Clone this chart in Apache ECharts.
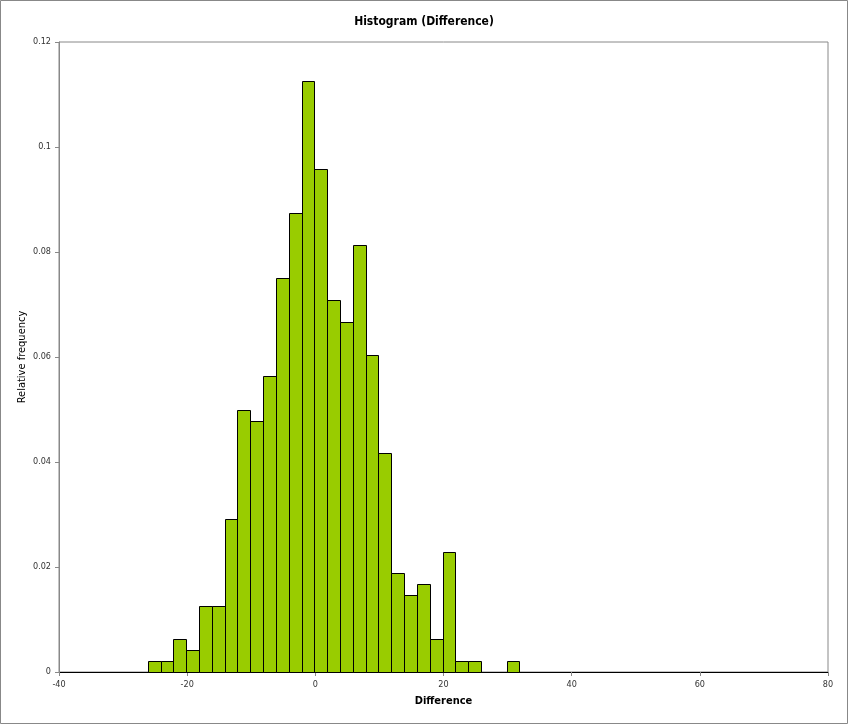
<!DOCTYPE html>
<html>
<head>
<meta charset="utf-8">
<script src="https://cdn.jsdelivr.net/npm/echarts@6/dist/echarts.min.js"></script>
<style>
html,body{margin:0;padding:0;background:#fff;}
#c{width:848px;height:724px;}
</style>
</head>
<body>
<div id="c"></div>
<script>
// Bin lower bounds (width 2)
var binStarts = [-26,-24,-22,-20,-18,-16,-14,-12,-10,-8,-6,-4,-2,0,2,4,6,8,10,12,14,16,18,20,22,24,26,28,30];
var binWidth = 2;
// Relative frequencies
var relFreq = [0.0021,0.0021,0.0063,0.0042,0.0125,0.0125,0.0292,0.05,0.0479,0.0563,0.075,0.0875,0.1125,0.0958,0.0708,0.0667,0.0813,0.0604,0.0417,0.0188,0.0146,0.0167,0.0063,0.0229,0.0021,0.0021,0,0,0.0021];
var xTicks = [-40,-20,0,20,40,60,80];
var yTicks = [0,0.02,0.04,0.06,0.08,0.1,0.12];

var FONT = '"Liberation Sans Narrow","DejaVu Sans Condensed","Liberation Sans",Arial,sans-serif';
var data = binStarts.map(function(s,i){ return [s, s+binWidth, relFreq[i]]; });

var chart = echarts.init(document.getElementById('c'), null, {renderer:'canvas'});
chart.setOption({
  backgroundColor:'#fff',
  animation:false,
  graphic:[{type:'rect',shape:{x:0.5,y:0.5,width:847,height:723},style:{fill:'none',stroke:'#888',lineWidth:1},silent:true}],
  title:{text:'Histogram (Difference)',left:'center',top:11,textStyle:{fontFamily:FONT,fontSize:12,fontWeight:'bold',color:'#000'}},
  grid:{left:59,top:42,width:769,height:630,show:true,borderColor:'#888',borderWidth:1,containLabel:false},
  xAxis:{type:'value',min:-40,max:80,interval:20,
    name:'Difference',nameLocation:'middle',nameGap:24,
    nameTextStyle:{fontFamily:FONT,fontSize:11,fontWeight:'bold',color:'#000'},
    axisLine:{show:true,onZero:false,lineStyle:{color:'#000',width:1}},
    axisTick:{show:true,length:4,lineStyle:{color:'#888'}},
    axisLabel:{fontFamily:FONT,fontSize:9,color:'#333',margin:8,formatter:function(v){return xTicks.indexOf(v)>=0?String(v):'';}},
    splitLine:{show:false}},
  yAxis:{type:'value',min:0,max:0.12,interval:0.02,
    name:'Relative frequency',nameLocation:'middle',nameGap:31,nameRotate:90,nameMoveOverlap:false,
    nameTextStyle:{fontFamily:FONT,fontSize:11,color:'#000'},
    axisLine:{show:true,onZero:false,lineStyle:{color:'#888',width:1}},
    axisTick:{show:true,length:4,lineStyle:{color:'#888'}},
    axisLabel:{fontFamily:FONT,fontSize:9,color:'#333',margin:8,
      formatter:function(v){ var r=Math.round(v*100)/100; return r===0?'0':String(r);}},
    splitLine:{show:false}},
  series:[{
    type:'custom',
    data:data,
    encode:{x:[0,1],y:2},
    renderItem:function(params, api){
      var p0 = api.coord([api.value(0), api.value(2)]);
      var p1 = api.coord([api.value(1), 0]);
      if (api.value(2) <= 0) return null;
      return {type:'rect',
        shape:{x:Math.round(p0[0])-0.5,y:Math.round(p0[1])+0.5,width:Math.round(p1[0])-Math.round(p0[0]),height:Math.round(p1[1])-Math.round(p0[1])},
        style:{fill:'#99CC00',stroke:'#000',lineWidth:1}};
    }
  }]
});
</script>
</body>
</html>
